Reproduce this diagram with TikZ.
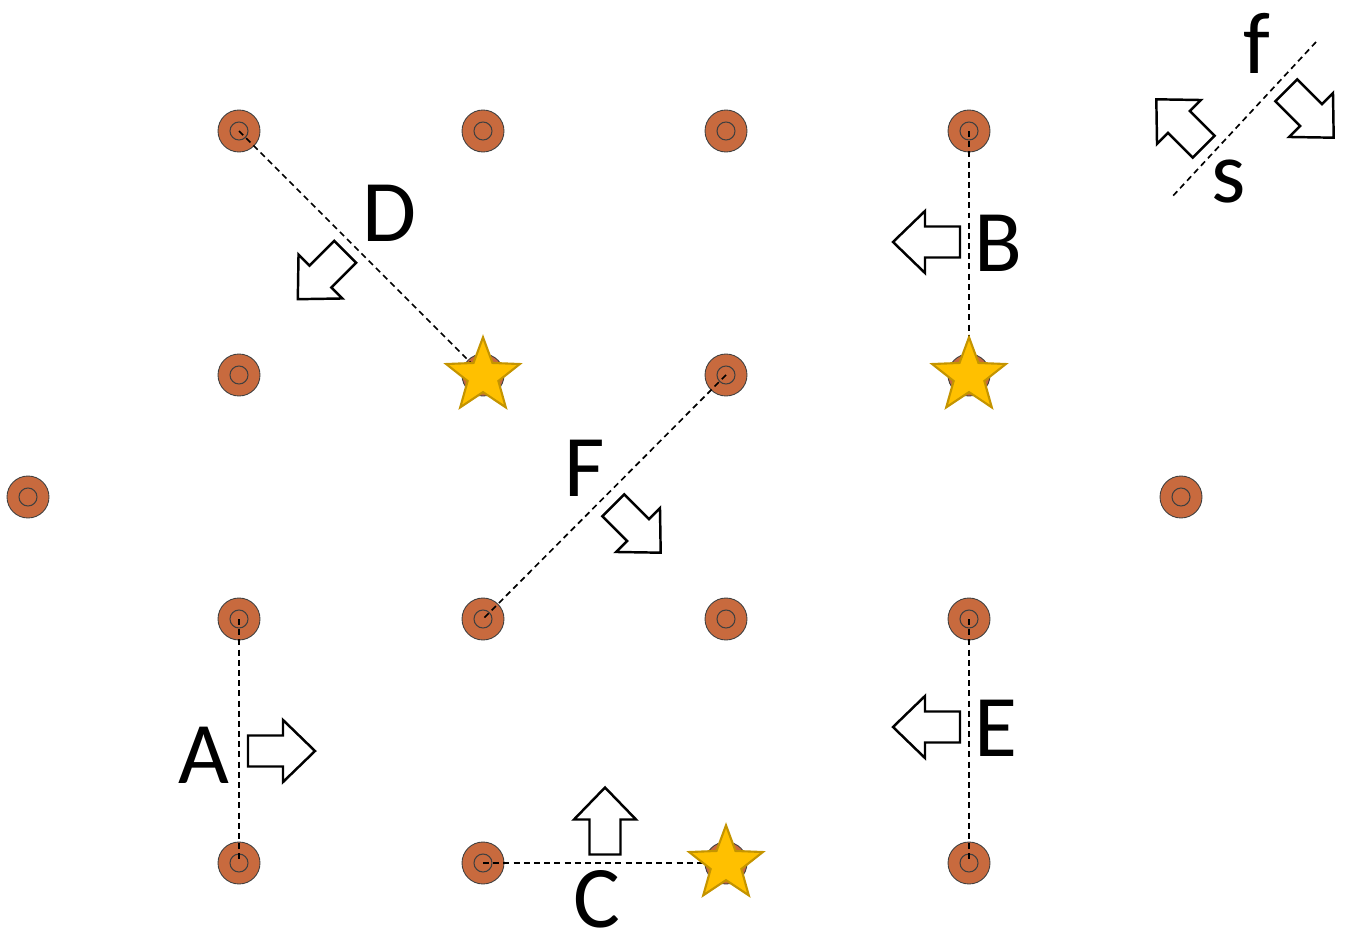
\documentclass[tikz,border=0pt]{standalone}
\usepackage{fontspec}
\setmainfont{Carlito}
\usepackage{tikz}
\usetikzlibrary{shapes.geometric}
\usepackage{xcolor}
\definecolor{dotfill}{RGB}{200,106,62}
\definecolor{starfill}{RGB}{255,192,0}
\definecolor{starline}{RGB}{196,148,0}

\begin{document}
\begin{tikzpicture}[
		x=0.02cm, y=-0.02cm,  % 像素坐标
		dot/.style={circle, draw=black!75, line width=0.5pt, fill=dotfill, minimum size=0.84cm, inner sep=0pt,
			path picture={\draw[line width=0.6pt] (path picture bounding box.center) circle (0.18cm);}},
		starnode/.style={star, star points=5, star point ratio=2.4, draw=starline, line width=1.2pt, fill=starfill, minimum size=1.55cm, inner sep=0pt},
		dashline/.style={dash pattern=on 3.4pt off 2.4pt, line width=0.95pt},
		lbl/.style={inner sep=0pt, font=\fontsize{50}{60}\selectfont},
		blockarrow/.pic={\draw[line width=1.4pt, fill=white, line join=miter] (-33.5,-15.5) -- (1.5,-15.5) -- (1.5,-31) -- (33.5,0) -- (1.5,31) -- (1.5,15.5) -- (-33.5,15.5) -- cycle;}
		]
		\useasboundingbox (0,0) rectangle (1348,939);
		% 圆点 - 第一行
		\node[dot] (p11) at (239,131) {};
		\node[dot] (p12) at (483,131) {};
		\node[dot] (p13) at (726,131) {};
		\node[dot] (p14) at (969,131) {};
		% 第二行
		\node[dot] (p21) at (239,375) {};
		\node[dot] (p22) at (483,375) {};
		\node[dot] (p23) at (726,375) {};
		\node[dot] (p24) at (969,375) {};
		% 中间两侧的点
		\node[dot] (pl) at (28,497) {};
		\node[dot] (pr) at (1181,497) {};
		% 第三行
		\node[dot] (p31) at (239,619) {};
		\node[dot] (p32) at (483,619) {};
		\node[dot] (p33) at (726,619) {};
		\node[dot] (p34) at (969,619) {};
		% 第四行
		\node[dot] (p41) at (239,863) {};
		\node[dot] (p42) at (483,863) {};
		\node[dot] (p43) at (726,863) {};
		\node[dot] (p44) at (969,863) {};
		% 虚线
		\draw[dashline] (p11.center) -- (p22.center);
		\draw[dashline] (p14.center) -- (p24.center);
		\draw[dashline] (p23.center) -- (p32.center);
		\draw[dashline] (p31.center) -- (p41.center);
		\draw[dashline] (p34.center) -- (p44.center);
		\draw[dashline] (p42.center) -- (p43.center);
		\coordinate (fs1) at (1316,42);
		\coordinate (fs2) at (1171,198);
		\draw[dashline] (fs1) -- (fs2);
		% 星形
		\node[starnode] (s22) at (483,376) {};
		\node[starnode] (s24) at (969,376) {};
		\node[starnode] (s43) at (726,864) {};
		% 空心箭头(rotate按画面逆时针)
		\pic[rotate=225] (arrD) at (321.5,275.5) {blockarrow};
		\pic[rotate=180] (arrB) at (926.5,242) {blockarrow};
		\pic[rotate=-45] (arrF) at (637,529) {blockarrow};
		\pic[rotate=0] (arrA) at (281.5,751) {blockarrow};
		\pic[rotate=180] (arrE) at (926.5,727) {blockarrow};
		\pic[rotate=90] (arrC) at (605,821) {blockarrow};
		\pic[rotate=-45] (arrf) at (1310,114) {blockarrow};
		\pic[rotate=135] (arrs) at (1180,123) {blockarrow};
		% 标签
		\node[lbl] (labD) at (390,213) {D};
		\node[lbl] (labB) at (998,243) {B};
		\node[lbl] (labF) at (585,468) {F};
		\node[lbl] (labA) at (204,755) {A};
		\node[lbl] (labE) at (996,728) {E};
		\node[lbl] (labC) at (597,899) {C};
		\node[lbl] (labf) at (1257,43) {f};
		\node[lbl] (labs) at (1229,182) {s};
	\end{tikzpicture}
\end{document}
